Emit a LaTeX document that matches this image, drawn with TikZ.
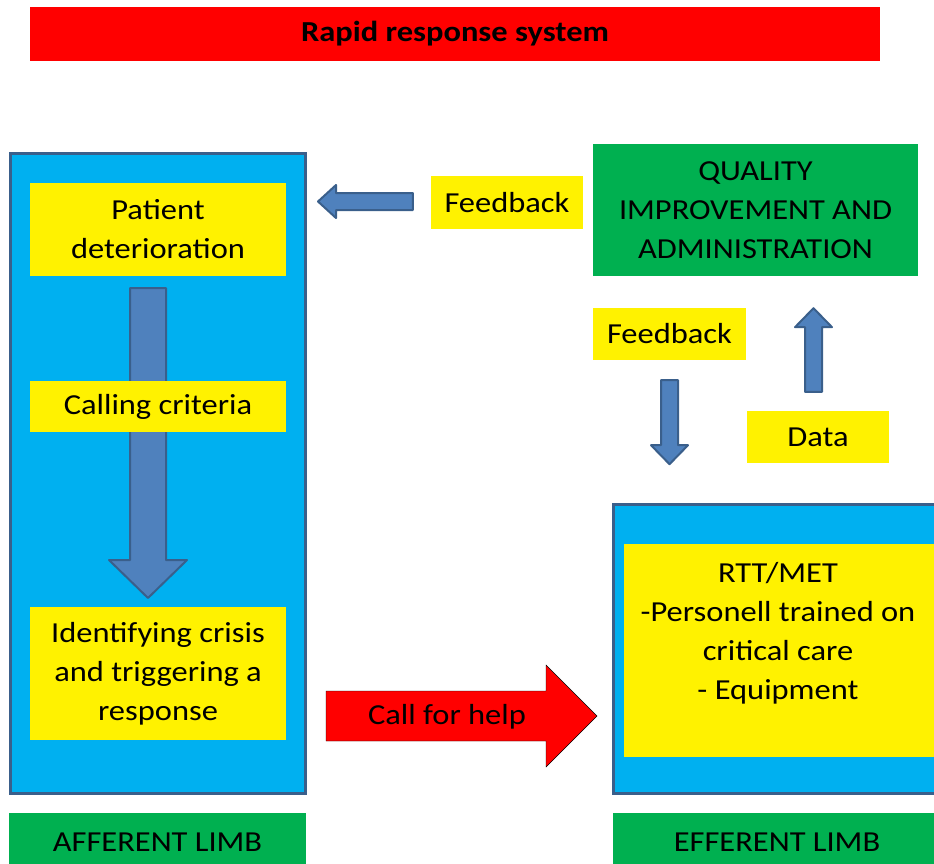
\documentclass[tikz,border=0pt]{standalone}
\usepackage{fontspec}
\setmainfont{Carlito}[FakeStretch=1.12]
\usetikzlibrary{calc}
\definecolor{limbblue}{HTML}{00B0F0}
\definecolor{limbedge}{HTML}{3A5F8B}
\definecolor{limbgreen}{HTML}{00B050}
\definecolor{arrowblue}{HTML}{4F81BD}
\tikzset{every node/.style={font=\fontsize{29}{39}\selectfont,align=center,inner sep=0pt},
limb/.style={draw=limbedge,line width=3pt,fill=limbblue},
ybox/.style={fill=yellow},gbox/.style={fill=limbgreen},
barrow/.style={draw=limbedge,line width=2pt,line join=round,fill=arrowblue}}
% flèche pleine : [style] queue, pointe, demi-largeur du corps, demi-largeur de la tête, longueur de la tête
\newcommand{\blockarrow}[6][barrow]{%
\path ($(#3)!#6!(#2)$) coordinate (hb);
\draw[#1] ($(#2)!#4!90:(#3)$)--($(hb)!#4!90:(#3)$)--($(hb)!#5!90:(#3)$)--(#3)--($(hb)!#5!-90:(#3)$)--($(hb)!#4!-90:(#3)$)--($(#2)!#4!-90:(#3)$)--cycle;}

\begin{document}
\begin{tikzpicture}[x=1pt,y=-1pt]
% Membre afférent à gauche, équipe (membre efférent) à droite, boucle qualité en haut.
\useasboundingbox (0,0) rectangle (934,863);
\clip (0,0) rectangle (934,863);
\node[fill=red,minimum width=850,minimum height=54,font=\bfseries\fontsize{29}{39}\selectfont] (title) at (455,34) {Rapid response system};
\node[limb,minimum width=295,minimum height=640] (afferent) at (158,473.5) {};
\coordinate (dtail) at (148,288);
\coordinate (dtip) at (148,598);
\blockarrow{dtail}{dtip}{18pt}{39pt}{38pt}
\node[ybox,minimum width=256,minimum height=93] (patient) at (158,229.5) {Patient\\deterioration};
\node[ybox,minimum width=256,minimum height=51] (criteria) at (158,406.5) {Calling criteria};
\node[ybox,minimum width=256,minimum height=133] (crisis) at (158,673.5) {Identifying crisis\\and triggering a\\response};
\node[gbox,minimum width=297,minimum height=58] (afflimb) at (157.5,842) {AFFERENT LIMB};
\node[limb,minimum width=337,minimum height=289] (efferent) at (782,649) {};
\node[ybox,minimum width=312,minimum height=213] (team) at (780,650.5) {};
\node[anchor=north] (teamtext) at ($(team.north)+(-2,18)$) {RTT/MET\\-Personell trained on\\critical care\\- Equipment};
\node[gbox,minimum width=328,minimum height=58] (efflimb) at (777,842) {EFFERENT LIMB};
\node[gbox,minimum width=325,minimum height=132] (quality) at (755.5,210) {QUALITY\\IMPROVEMENT AND\\ADMINISTRATION};
\node[ybox,minimum width=152,minimum height=53] (fbtop) at (507,202.5) {Feedback};
\node[ybox,minimum width=153,minimum height=52] (fbmid) at (669.5,334) {Feedback};
\node[ybox,minimum width=142,minimum height=52] (data) at (818,437) {Data};
\coordinate (fbtail) at ($(fbtop.west)+(-18,-1)$);
\coordinate (fbtip) at ($(afferent.east |- fbtail)+(11,0)$);
\blockarrow{fbtail}{fbtip}{8.5pt}{16.5pt}{18pt}
\coordinate (downtail) at ($(fbmid.south)+(0,20)$);
\coordinate (downtip) at ($(fbmid.south)+(0,104)$);
\blockarrow{downtail}{downtip}{8.5pt}{18.5pt}{19pt}
\coordinate (uptail) at ($(data.north)+(-4.5,-19)$);
\coordinate (uptip) at ($(quality.south -| uptail)+(0,32)$);
\blockarrow{uptail}{uptip}{8.5pt}{18.5pt}{19pt}
\coordinate (calltail) at ($(afferent.east)+(19,242.5)$);
\coordinate (calltip) at ($(efferent.west |- calltail)+(-15,0)$);
\blockarrow[fill=red]{calltail}{calltip}{25pt}{51pt}{51pt}
\node (help) at (447,717) {Call for help};
\end{tikzpicture}
\end{document}
